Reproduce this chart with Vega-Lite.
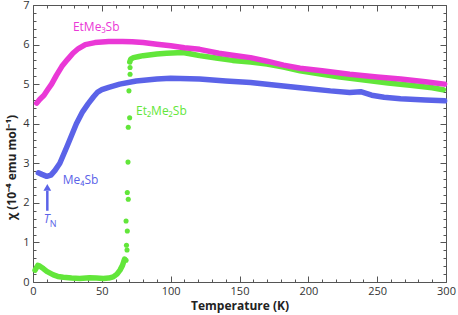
{
  "$schema": "https://vega.github.io/schema/vega-lite/v6.json",
  "width": 413,
  "height": 277,
  "autosize": {"type": "none"},
  "padding": {"left": 33, "top": 5, "right": 12, "bottom": 33},
  "config": {
    "view": {"stroke": "#555", "strokeWidth": 1},
    "font": "Open Sans",
    "axis": {"domain": false, "grid": false, "tickColor": "#555", "tickWidth": 1, "labelOverlap": false, "labelColor": "#333", "labelFont": "Open Sans", "labelFontSize": 11, "titleFont": "Open Sans", "titleFontSize": 12, "titleFontWeight": "bold", "titleColor": "#222"}
  },
  "datasets": {
    "curves": [
      {"s": "Et2Me2Sb", "b": "low", "T": 1.5, "chi": 0.3},
      {"s": "Et2Me2Sb", "b": "low", "T": 3.5, "chi": 0.42},
      {"s": "Et2Me2Sb", "b": "low", "T": 5, "chi": 0.4},
      {"s": "Et2Me2Sb", "b": "low", "T": 7.5, "chi": 0.34},
      {"s": "Et2Me2Sb", "b": "low", "T": 10, "chi": 0.27},
      {"s": "Et2Me2Sb", "b": "low", "T": 14.8, "chi": 0.18},
      {"s": "Et2Me2Sb", "b": "low", "T": 18, "chi": 0.14},
      {"s": "Et2Me2Sb", "b": "low", "T": 22, "chi": 0.12},
      {"s": "Et2Me2Sb", "b": "low", "T": 28, "chi": 0.1},
      {"s": "Et2Me2Sb", "b": "low", "T": 34, "chi": 0.09},
      {"s": "Et2Me2Sb", "b": "low", "T": 41, "chi": 0.11},
      {"s": "Et2Me2Sb", "b": "low", "T": 46, "chi": 0.1},
      {"s": "Et2Me2Sb", "b": "low", "T": 51, "chi": 0.09},
      {"s": "Et2Me2Sb", "b": "low", "T": 55, "chi": 0.1},
      {"s": "Et2Me2Sb", "b": "low", "T": 58.3, "chi": 0.13},
      {"s": "Et2Me2Sb", "b": "low", "T": 61, "chi": 0.2},
      {"s": "Et2Me2Sb", "b": "low", "T": 63.2, "chi": 0.3},
      {"s": "Et2Me2Sb", "b": "low", "T": 65, "chi": 0.42},
      {"s": "Et2Me2Sb", "b": "low", "T": 66.5, "chi": 0.58},
      {"s": "Et2Me2Sb", "b": "jump", "T": 67.6, "chi": 0.55},
      {"s": "Et2Me2Sb", "b": "jump", "T": 68.3, "chi": 0.81},
      {"s": "Et2Me2Sb", "b": "jump", "T": 67.9, "chi": 0.93},
      {"s": "Et2Me2Sb", "b": "jump", "T": 68.5, "chi": 1.29},
      {"s": "Et2Me2Sb", "b": "jump", "T": 67.6, "chi": 1.54},
      {"s": "Et2Me2Sb", "b": "jump", "T": 69.2, "chi": 2.09},
      {"s": "Et2Me2Sb", "b": "jump", "T": 68.5, "chi": 2.26},
      {"s": "Et2Me2Sb", "b": "jump", "T": 69.0, "chi": 3.03},
      {"s": "Et2Me2Sb", "b": "jump", "T": 69.2, "chi": 3.91},
      {"s": "Et2Me2Sb", "b": "jump", "T": 70.2, "chi": 4.15},
      {"s": "Et2Me2Sb", "b": "jump", "T": 69.7, "chi": 4.83},
      {"s": "Et2Me2Sb", "b": "jump", "T": 70.5, "chi": 5.25},
      {"s": "Et2Me2Sb", "b": "jump", "T": 70.5, "chi": 5.42},
      {"s": "Et2Me2Sb", "b": "high", "T": 70.3, "chi": 5.56},
      {"s": "Et2Me2Sb", "b": "high", "T": 71, "chi": 5.63},
      {"s": "Et2Me2Sb", "b": "high", "T": 73, "chi": 5.67},
      {"s": "Et2Me2Sb", "b": "high", "T": 77, "chi": 5.7},
      {"s": "Et2Me2Sb", "b": "high", "T": 80, "chi": 5.72},
      {"s": "Et2Me2Sb", "b": "high", "T": 90, "chi": 5.76},
      {"s": "Et2Me2Sb", "b": "high", "T": 97, "chi": 5.78},
      {"s": "Et2Me2Sb", "b": "high", "T": 109, "chi": 5.8},
      {"s": "Et2Me2Sb", "b": "high", "T": 115, "chi": 5.76},
      {"s": "Et2Me2Sb", "b": "high", "T": 121, "chi": 5.72},
      {"s": "Et2Me2Sb", "b": "high", "T": 133, "chi": 5.66},
      {"s": "Et2Me2Sb", "b": "high", "T": 145, "chi": 5.6},
      {"s": "Et2Me2Sb", "b": "high", "T": 158, "chi": 5.56},
      {"s": "Et2Me2Sb", "b": "high", "T": 170, "chi": 5.51},
      {"s": "Et2Me2Sb", "b": "high", "T": 182, "chi": 5.43},
      {"s": "Et2Me2Sb", "b": "high", "T": 194, "chi": 5.34},
      {"s": "Et2Me2Sb", "b": "high", "T": 210, "chi": 5.25},
      {"s": "Et2Me2Sb", "b": "high", "T": 223, "chi": 5.18},
      {"s": "Et2Me2Sb", "b": "high", "T": 242, "chi": 5.1},
      {"s": "Et2Me2Sb", "b": "high", "T": 258, "chi": 5.03},
      {"s": "Et2Me2Sb", "b": "high", "T": 274, "chi": 4.97},
      {"s": "Et2Me2Sb", "b": "high", "T": 290, "chi": 4.91},
      {"s": "Et2Me2Sb", "b": "high", "T": 298, "chi": 4.86},
      {"s": "Me4Sb", "b": "a", "T": 3.9, "chi": 2.76},
      {"s": "Me4Sb", "b": "a", "T": 6.5, "chi": 2.72},
      {"s": "Me4Sb", "b": "a", "T": 10, "chi": 2.67},
      {"s": "Me4Sb", "b": "a", "T": 13, "chi": 2.7},
      {"s": "Me4Sb", "b": "a", "T": 16, "chi": 2.82},
      {"s": "Me4Sb", "b": "a", "T": 19.5, "chi": 3.0},
      {"s": "Me4Sb", "b": "a", "T": 25, "chi": 3.45},
      {"s": "Me4Sb", "b": "a", "T": 31.5, "chi": 4.0},
      {"s": "Me4Sb", "b": "a", "T": 36, "chi": 4.3},
      {"s": "Me4Sb", "b": "a", "T": 40, "chi": 4.5},
      {"s": "Me4Sb", "b": "a", "T": 44, "chi": 4.68},
      {"s": "Me4Sb", "b": "a", "T": 47, "chi": 4.8},
      {"s": "Me4Sb", "b": "a", "T": 50, "chi": 4.86},
      {"s": "Me4Sb", "b": "a", "T": 55, "chi": 4.92},
      {"s": "Me4Sb", "b": "a", "T": 63, "chi": 5.0},
      {"s": "Me4Sb", "b": "a", "T": 75, "chi": 5.08},
      {"s": "Me4Sb", "b": "a", "T": 90, "chi": 5.13},
      {"s": "Me4Sb", "b": "a", "T": 100, "chi": 5.15},
      {"s": "Me4Sb", "b": "a", "T": 121, "chi": 5.13},
      {"s": "Me4Sb", "b": "a", "T": 140, "chi": 5.08},
      {"s": "Me4Sb", "b": "a", "T": 158, "chi": 5.04},
      {"s": "Me4Sb", "b": "a", "T": 175, "chi": 4.98},
      {"s": "Me4Sb", "b": "a", "T": 194, "chi": 4.91},
      {"s": "Me4Sb", "b": "a", "T": 216, "chi": 4.83},
      {"s": "Me4Sb", "b": "a", "T": 230, "chi": 4.79},
      {"s": "Me4Sb", "b": "a", "T": 238, "chi": 4.81},
      {"s": "Me4Sb", "b": "a", "T": 246, "chi": 4.72},
      {"s": "Me4Sb", "b": "a", "T": 255, "chi": 4.67},
      {"s": "Me4Sb", "b": "a", "T": 267, "chi": 4.63},
      {"s": "Me4Sb", "b": "a", "T": 285, "chi": 4.6},
      {"s": "Me4Sb", "b": "a", "T": 299, "chi": 4.58},
      {"s": "EtMe3Sb", "b": "a", "T": 2.7, "chi": 4.52},
      {"s": "EtMe3Sb", "b": "a", "T": 5, "chi": 4.62},
      {"s": "EtMe3Sb", "b": "a", "T": 8, "chi": 4.72},
      {"s": "EtMe3Sb", "b": "a", "T": 10.5, "chi": 4.85},
      {"s": "EtMe3Sb", "b": "a", "T": 13.5, "chi": 5.0},
      {"s": "EtMe3Sb", "b": "a", "T": 17, "chi": 5.22},
      {"s": "EtMe3Sb", "b": "a", "T": 21, "chi": 5.45},
      {"s": "EtMe3Sb", "b": "a", "T": 25, "chi": 5.62},
      {"s": "EtMe3Sb", "b": "a", "T": 29, "chi": 5.78},
      {"s": "EtMe3Sb", "b": "a", "T": 33, "chi": 5.9},
      {"s": "EtMe3Sb", "b": "a", "T": 38, "chi": 6.0},
      {"s": "EtMe3Sb", "b": "a", "T": 45, "chi": 6.05},
      {"s": "EtMe3Sb", "b": "a", "T": 55, "chi": 6.08},
      {"s": "EtMe3Sb", "b": "a", "T": 65, "chi": 6.08},
      {"s": "EtMe3Sb", "b": "a", "T": 72, "chi": 6.07},
      {"s": "EtMe3Sb", "b": "a", "T": 80, "chi": 6.05},
      {"s": "EtMe3Sb", "b": "a", "T": 90, "chi": 6.01},
      {"s": "EtMe3Sb", "b": "a", "T": 100, "chi": 5.97},
      {"s": "EtMe3Sb", "b": "a", "T": 110, "chi": 5.92},
      {"s": "EtMe3Sb", "b": "a", "T": 121, "chi": 5.88},
      {"s": "EtMe3Sb", "b": "a", "T": 135, "chi": 5.78},
      {"s": "EtMe3Sb", "b": "a", "T": 145, "chi": 5.73},
      {"s": "EtMe3Sb", "b": "a", "T": 158, "chi": 5.67},
      {"s": "EtMe3Sb", "b": "a", "T": 170, "chi": 5.58},
      {"s": "EtMe3Sb", "b": "a", "T": 182, "chi": 5.48},
      {"s": "EtMe3Sb", "b": "a", "T": 194, "chi": 5.4},
      {"s": "EtMe3Sb", "b": "a", "T": 210, "chi": 5.34},
      {"s": "EtMe3Sb", "b": "a", "T": 230, "chi": 5.25},
      {"s": "EtMe3Sb", "b": "a", "T": 250, "chi": 5.18},
      {"s": "EtMe3Sb", "b": "a", "T": 267, "chi": 5.13},
      {"s": "EtMe3Sb", "b": "a", "T": 285, "chi": 5.06},
      {"s": "EtMe3Sb", "b": "a", "T": 299, "chi": 5.0}
    ],
    "labels": [
      {"s": "EtMe3Sb", "T": 29, "chi": 6.45, "label": "EtMe₃Sb"},
      {"s": "Et2Me2Sb", "T": 74.8, "chi": 4.33, "label": "Et₂Me₂Sb"},
      {"s": "Me4Sb", "T": 21.6, "chi": 2.57, "label": "Me₄Sb"}
    ],
    "arrow": [
      {"s": "Me4Sb", "T": 10.4, "chi": 1.8, "chi2": 2.3, "head": 2.39}
    ],
    "tn": [
      {"s": "Me4Sb", "T": 10.0, "chi": 1.6, "label": "T", "sub": "N"}
    ]
  },
  "layer": [
    {
      "data": {"name": "curves"},
      "transform": [{"filter": "datum.b !== 'jump'"}],
      "mark": {"type": "line", "strokeWidth": 5.5, "strokeCap": "round", "strokeJoin": "round"},
      "encoding": {
        "x": {"field": "T", "type": "quantitative", "scale": {"domain": [0, 300], "nice": false},
          "axis": {"orient": "bottom", "title": "Temperature (K)", "labelOverlap": false, "values": [0,10,20,30,40,50,60,70,80,90,100,110,120,130,140,150,160,170,180,190,200,210,220,230,240,250,260,270,280,290,300],
            "labelExpr": "datum.value % 50 === 0 ? datum.label : ''", "tickSize": {"condition": {"test": "datum.value % 50 === 0", "value": -6}, "value": -3}, "labelPadding": 9, "titlePadding": 1, "labelFlush": false}},
        "y": {"field": "chi", "type": "quantitative", "scale": {"domain": [0, 7], "nice": false},
          "axis": {"orient": "left", "title": "χ (10⁻⁴ emu mol⁻¹)", "labelOverlap": false, "values": [0,0.2,0.4,0.6,0.8,1,1.2,1.4,1.6,1.8,2,2.2,2.4,2.6,2.8,3,3.2,3.4,3.6,3.8,4,4.2,4.4,4.6,4.8,5,5.2,5.4,5.6,5.8,6,6.2,6.4,6.6,6.8,7],
            "labelExpr": "abs(datum.value - round(datum.value)) < 0.01 ? format(datum.value, 'd') : ''", "tickSize": {"condition": {"test": "abs(datum.value - round(datum.value)) < 0.01", "value": -6}, "value": -3}, "labelPadding": 10, "titlePadding": 4, "titleY": 162, "labelFlush": false}},
        "color": {"field": "s", "type": "nominal", "scale": {"domain": ["EtMe3Sb", "Me4Sb", "Et2Me2Sb"], "range": ["#ea38d6", "#5b63e8", "#62e63a"]}, "legend": null},
        "detail": {"field": "b"}
      }
    },
    {
      "data": {"name": "curves"},
      "transform": [{"filter": "datum.b === 'jump'"}],
      "mark": {"type": "circle", "size": 26, "opacity": 1},
      "encoding": {
        "x": {"field": "T", "type": "quantitative", "axis": null},
        "y": {"field": "chi", "type": "quantitative", "axis": null},
        "color": {"field": "s", "type": "nominal", "legend": null}
      }
    },
    {
      "data": {"name": "labels"},
      "mark": {"type": "text", "align": "left", "baseline": "middle", "fontSize": 12, "font": "Open Sans"},
      "encoding": {
        "x": {"field": "T", "type": "quantitative", "axis": null},
        "y": {"field": "chi", "type": "quantitative", "axis": null},
        "text": {"field": "label"},
        "color": {"field": "s", "type": "nominal", "legend": null}
      }
    },
    {
      "data": {"name": "arrow"},
      "mark": {"type": "rule", "strokeWidth": 2.5},
      "encoding": {
        "x": {"field": "T", "type": "quantitative", "axis": null},
        "y": {"field": "chi", "type": "quantitative", "axis": null},
        "y2": {"field": "chi2"},
        "color": {"field": "s", "type": "nominal", "legend": null}
      }
    },
    {
      "data": {"name": "arrow"},
      "mark": {"type": "point", "shape": "triangle-up", "filled": true, "size": 60, "opacity": 1},
      "encoding": {
        "x": {"field": "T", "type": "quantitative", "axis": null},
        "y": {"field": "head", "type": "quantitative", "axis": null},
        "color": {"field": "s", "type": "nominal", "legend": null}
      }
    },
    {
      "data": {"name": "tn"},
      "mark": {"type": "text", "align": "center", "baseline": "middle", "fontSize": 12, "fontStyle": "italic", "font": "Open Sans"},
      "encoding": {
        "x": {"field": "T", "type": "quantitative", "axis": null},
        "y": {"field": "chi", "type": "quantitative", "axis": null},
        "text": {"field": "label"},
        "color": {"field": "s", "type": "nominal", "legend": null}
      }
    },
    {
      "data": {"name": "tn"},
      "mark": {"type": "text", "align": "left", "baseline": "middle", "fontSize": 9, "dx": 3, "dy": 5, "font": "Open Sans"},
      "encoding": {
        "x": {"field": "T", "type": "quantitative", "axis": null},
        "y": {"field": "chi", "type": "quantitative", "axis": null},
        "text": {"field": "sub"},
        "color": {"field": "s", "type": "nominal", "legend": null}
      }
    },
    {
      "data": {"name": "arrow"},
      "mark": {"type": "point", "opacity": 0},
      "encoding": {
        "x": {"field": "T", "type": "quantitative",
          "axis": {"orient": "top", "title": null, "labels": false, "values": [0,10,20,30,40,50,60,70,80,90,100,110,120,130,140,150,160,170,180,190,200,210,220,230,240,250,260,270,280,290,300],
            "tickSize": {"condition": {"test": "datum.value % 50 === 0", "value": -6}, "value": -3}}},
        "y": {"field": "chi", "type": "quantitative",
          "axis": {"orient": "right", "title": null, "labels": false, "values": [0,0.2,0.4,0.6,0.8,1,1.2,1.4,1.6,1.8,2,2.2,2.4,2.6,2.8,3,3.2,3.4,3.6,3.8,4,4.2,4.4,4.6,4.8,5,5.2,5.4,5.6,5.8,6,6.2,6.4,6.6,6.8,7],
            "tickSize": {"condition": {"test": "abs(datum.value - round(datum.value)) < 0.01", "value": -6}, "value": -3}}}
      }
    }
  ],
  "resolve": {"axis": {"x": "independent", "y": "independent"}}
}
